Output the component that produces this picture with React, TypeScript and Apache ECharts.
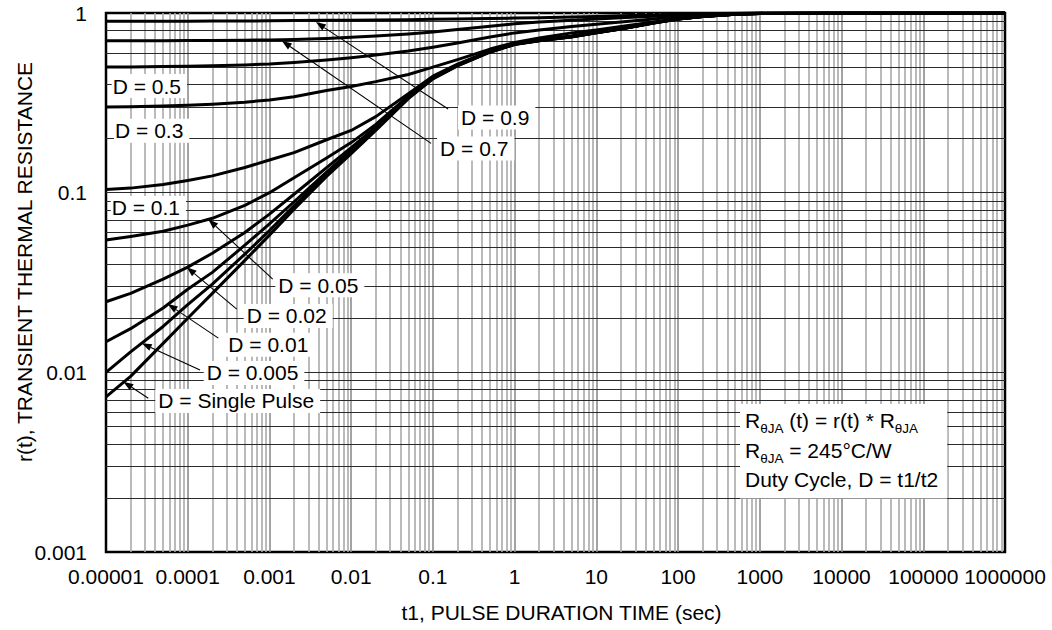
import React, { useEffect, useRef } from "react";
import * as echarts from "echarts";

// ---- data ----
const times = [1e-5, 2e-5, 5e-5, 1e-4, 2e-4, 5e-4, 1e-3, 2e-3, 5e-3, 1e-2, 2e-2, 5e-2, 0.1, 0.2, 0.5, 1, 2, 5, 10, 20, 50, 100, 200, 500, 1000, 1e4, 1e6];

const rSingle = [0.0073, 0.0095, 0.0145, 0.02, 0.0275, 0.042, 0.058, 0.081, 0.123, 0.165, 0.222, 0.334, 0.43, 0.508, 0.605, 0.668, 0.7, 0.736, 0.775, 0.815, 0.88, 0.925, 0.955, 0.985, 0.995, 1, 1];
const rD0005 = [0.01, 0.013, 0.018, 0.0238, 0.031, 0.0455, 0.0615, 0.0845, 0.126, 0.168, 0.225, 0.336, 0.432, 0.51, 0.607, 0.669, 0.701, 0.737, 0.776, 0.815, 0.88, 0.925, 0.955, 0.985, 0.995, 1, 1];
const rD001 = [0.0148, 0.0175, 0.0228, 0.029, 0.036, 0.051, 0.067, 0.089, 0.13, 0.172, 0.228, 0.338, 0.434, 0.511, 0.609, 0.67, 0.702, 0.738, 0.777, 0.816, 0.88, 0.926, 0.955, 0.985, 0.995, 1, 1];
const rD002 = [0.0247, 0.0275, 0.033, 0.0385, 0.046, 0.06, 0.076, 0.098, 0.138, 0.178, 0.232, 0.34, 0.436, 0.512, 0.61, 0.671, 0.703, 0.74, 0.778, 0.817, 0.881, 0.926, 0.956, 0.985, 0.995, 1, 1];
const rD005 = [0.0545, 0.057, 0.061, 0.066, 0.072, 0.085, 0.1, 0.121, 0.156, 0.19, 0.24, 0.345, 0.44, 0.515, 0.612, 0.672, 0.705, 0.742, 0.78, 0.818, 0.882, 0.927, 0.956, 0.985, 0.995, 1, 1];
const rD01 = [0.104, 0.106, 0.111, 0.117, 0.124, 0.138, 0.152, 0.167, 0.197, 0.222, 0.265, 0.355, 0.445, 0.52, 0.615, 0.675, 0.708, 0.745, 0.782, 0.82, 0.884, 0.928, 0.957, 0.986, 0.995, 1, 1];
const rD03 = [0.3, 0.301, 0.304, 0.307, 0.311, 0.319, 0.328, 0.342, 0.37, 0.39, 0.415, 0.455, 0.5, 0.55, 0.63, 0.685, 0.725, 0.775, 0.805, 0.84, 0.89, 0.93, 0.96, 0.985, 0.997, 1, 1];
const rD05 = [0.5, 0.501, 0.503, 0.505, 0.508, 0.514, 0.52, 0.53, 0.547, 0.563, 0.583, 0.615, 0.645, 0.68, 0.735, 0.775, 0.805, 0.84, 0.865, 0.89, 0.925, 0.955, 0.975, 0.99, 1, 1, 1];
const rD07 = [0.7, 0.7, 0.701, 0.702, 0.704, 0.706, 0.708, 0.713, 0.722, 0.732, 0.745, 0.765, 0.785, 0.81, 0.845, 0.87, 0.89, 0.91, 0.925, 0.94, 0.96, 0.975, 0.985, 0.995, 1, 1, 1];
const rD09 = [0.9, 0.9, 0.9, 0.901, 0.902, 0.903, 0.905, 0.907, 0.91, 0.912, 0.915, 0.918, 0.922, 0.926, 0.932, 0.937, 0.942, 0.95, 0.957, 0.965, 0.975, 0.983, 0.99, 0.996, 0.999, 1, 1];

const curveNames = ["Single Pulse", "D = 0.005", "D = 0.01", "D = 0.02", "D = 0.05", "D = 0.1", "D = 0.3", "D = 0.5", "D = 0.7", "D = 0.9"];
const curveValues = [rSingle, rD0005, rD001, rD002, rD005, rD01, rD03, rD05, rD07, rD09];

const xTickLabels = ["0.00001", "0.0001", "0.001", "0.01", "0.1", "1", "10", "100", "1000", "10000", "100000", "1000000"];
const yTickLabels = ["0.001", "0.01", "0.1", "1"];
const xDecades = [1e-5, 1e-4, 1e-3, 1e-2, 1e-1, 1, 10, 100, 1000, 1e4, 1e5, 1e6];
const yDecades = [1e-3, 1e-2, 1e-1, 1];

// annotation labels: text, left edge (t), vertical centre (r) in data units
const labelTexts = ["D = 0.9", "D = 0.7", "D = 0.5", "D = 0.3", "D = 0.1", "D = 0.05", "D = 0.02", "D = 0.01", "D = 0.005", "D = Single Pulse"];
const labelT = [0.221, 0.1225, 1.208e-5, 1.29e-5, 1.174e-5, 1.285e-3, 5.27e-4, 3.14e-4, 1.708e-4, 4.365e-5];
const labelR = [0.262, 0.176, 0.392, 0.221, 0.0822, 0.0305, 0.0206, 0.01426, 0.00993, 0.00693];

// arrows: tail (label side) -> tip (on curve), data units
const arrowFromT = [0.1535, 0.0951, 0.001096, 3.98e-4, 2.37e-4, 1.414e-4, 3.29e-5];
const arrowFromR = [0.292, 0.188, 0.033, 0.0225, 0.0155, 0.0103, 0.00718];
const arrowToT = [0.0037, 0.001415, 1.79e-4, 9.72e-5, 5.69e-5, 2.735e-5, 1.63e-5];
const arrowToR = [0.89, 0.7, 0.071, 0.0385, 0.024, 0.0145, 0.00887];

const FONT = "Liberation Sans, Arial, Helvetica, sans-serif";

export default function App() {
  const ref = useRef<HTMLDivElement>(null);

  useEffect(() => {
    if (!ref.current) return;
    const chart = echarts.init(ref.current, null, { renderer: "svg" });

    const xMin = xDecades[0], xMax = xDecades[xDecades.length - 1];
    const yMin = yDecades[0], yMax = yDecades[yDecades.length - 1];

    const gridData: any[] = [];
    for (let d = 0; d < xDecades.length - 1; d++) {
      for (let m = 1; m <= 9; m++) {
        if (d === 0 && m === 1) continue;
        const v = xDecades[d] * m;
        gridData.push({
          coords: [[v, yMin], [v, yMax]],
          lineStyle: { color: m === 1 ? "#8c8c8c" : "#a9a9a9", width: 1.6, opacity: 1, type: "solid" },
        });
      }
    }
    for (let d = 0; d < yDecades.length - 1; d++) {
      for (let m = 1; m <= 9; m++) {
        if (d === 0 && m === 1) continue;
        const v = yDecades[d] * m;
        gridData.push({
          coords: [[xMin, v], [xMax, v]],
          lineStyle: { color: "#2a2a2a", width: 1, opacity: 1, type: "solid" },
        });
      }
    }

    const curveSeries = curveValues.map((vals, ci) => ({
      type: "line",
      name: curveNames[ci],
      data: times.map((t, i) => [t, vals[i]]),
      symbol: "none",
      showSymbol: false,
      smooth: false,
      lineStyle: { color: "#000", width: 3, join: "round" },
      z: 3,
      silent: true,
    }));

    chart.setOption({
      animation: false,
      backgroundColor: "#fff",
      grid: { left: 106, right: 47, top: 13, bottom: 78, show: true, borderColor: "#000", borderWidth: 2.5, backgroundColor: "#fff" },
      xAxis: {
        type: "log",
        logBase: 10,
        min: xMin,
        max: xMax,
        interval: 1,
        splitNumber: 11,
        axisLine: { show: false },
        axisTick: { show: false },
        splitLine: { show: false },
        axisLabel: {
          fontSize: 21,
          fontFamily: FONT,
          color: "#000",
          margin: 14,
          showMinLabel: true,
          showMaxLabel: true,
          formatter: (v: number) => xTickLabels[Math.round(Math.log10(v)) + 5] ?? "",
        },
      },
      yAxis: {
        type: "log",
        logBase: 10,
        min: yMin,
        max: yMax,
        interval: 1,
        splitNumber: 3,
        axisLine: { show: false },
        axisTick: { show: false },
        splitLine: { show: false },
        axisLabel: {
          fontSize: 21,
          fontFamily: FONT,
          color: "#000",
          margin: 19,
          showMinLabel: true,
          showMaxLabel: true,
          formatter: (v: number) => yTickLabels[Math.round(Math.log10(v)) + 3] ?? "",
        },
      },
      series: [
        {
          type: "lines",
          coordinateSystem: "cartesian2d",
          z: 1,
          silent: true,
          polyline: false,
          effect: { show: false },
          data: gridData,
        },
        ...curveSeries,
      ],
    });

    const px = (t: number, r: number) => chart.convertToPixel({ gridIndex: 0 }, [t, r]) as number[];

    const graphics: any[] = [];
    arrowFromT.forEach((_, i) => {
      const a = px(arrowFromT[i], arrowFromR[i]);
      const b = px(arrowToT[i], arrowToR[i]);
      const dx = b[0] - a[0];
      const dy = b[1] - a[1];
      const len = Math.hypot(dx, dy) || 1;
      const ux = dx / len, uy = dy / len;
      const hl = 10, hw = 3.6;
      const bx = b[0] - ux * hl, by = b[1] - uy * hl;
      graphics.push({
        type: "line",
        z: 100,
        silent: true,
        shape: { x1: a[0], y1: a[1], x2: bx, y2: by },
        style: { stroke: "#000", lineWidth: 1.1 },
      });
      graphics.push({
        type: "polygon",
        z: 101,
        silent: true,
        shape: { points: [[b[0], b[1]], [bx - uy * hw, by + ux * hw], [bx + uy * hw, by - ux * hw]] },
        style: { fill: "#000" },
      });
    });

    labelTexts.forEach((txt, i) => {
      const p = px(labelT[i], labelR[i]);
      const padL = i === 2 || i === 3 || i === 4 ? 1 : 3;
      graphics.push({
        type: "text",
        z: 102,
        silent: true,
        x: p[0] - padL,
        y: p[1],
        style: {
          text: txt,
          fontSize: 21,
          fontFamily: FONT,
          fill: "#000",
          align: "left",
          verticalAlign: "middle",
          backgroundColor: "#fff",
          padding: [1, 6, 1, padL],
          lineHeight: 22,
        },
      });
    });

    // info box
    graphics.push({
      type: "text",
      z: 102,
      silent: true,
      x: 740,
      y: 404,
      style: {
        text:
          "{m|R}{s|θJA}{m| (t) = r(t) * R}{s|θJA}\n{m|R}{s|θJA}{m| = 245°C/W}\n{m|Duty Cycle, D = t1/t2}",
        fontSize: 21,
        fontFamily: FONT,
        fill: "#000",
        align: "left",
        verticalAlign: "top",
        backgroundColor: "#fff",
        padding: [2, 9, 4, 5],
        lineHeight: 29.5,
        rich: {
          m: { fontSize: 21, fontFamily: FONT, fill: "#000", lineHeight: 29.5 },
          s: { fontSize: 13.5, fontFamily: FONT, fill: "#000", lineHeight: 16, verticalAlign: "bottom" },
        },
      },
    });

    // axis titles
    graphics.push({
      type: "text",
      z: 102,
      silent: true,
      x: 24,
      y: 262,
      rotation: Math.PI / 2,
      style: {
        text: "r(t), TRANSIENT THERMAL RESISTANCE",
        fontSize: 21,
        fontFamily: FONT,
        fill: "#000",
        align: "center",
        verticalAlign: "middle",
      },
    });
    graphics.push({
      type: "text",
      z: 102,
      silent: true,
      x: 561.5,
      y: 612,
      style: {
        text: "t1, PULSE DURATION TIME (sec)",
        fontSize: 21,
        fontFamily: FONT,
        fill: "#000",
        align: "center",
        verticalAlign: "middle",
      },
    });

    chart.setOption({ graphic: graphics });

    return () => chart.dispose();
  }, []);

  return (
    <div
      ref={ref}
      style={{ position: "absolute", left: 0, top: 0, width: 1052, height: 630, background: "#fff" }}
    />
  );
}
